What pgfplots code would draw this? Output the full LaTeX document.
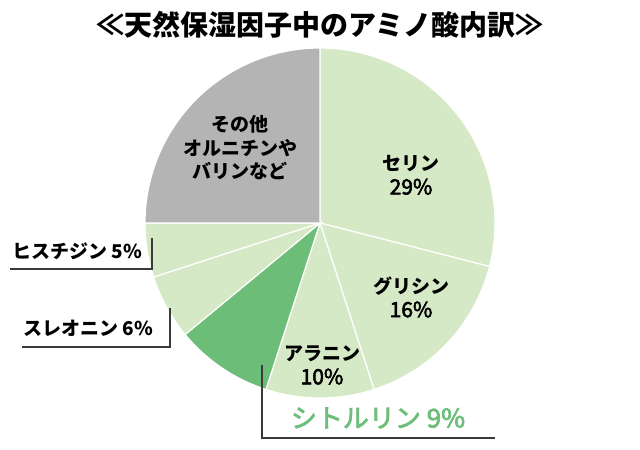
\documentclass[border=0pt]{standalone}
\usepackage{fontspec}
\setmainfont{Noto Sans CJK JP}
\usepackage{pgfplots}
\usepackage{pgfplotstable}
\pgfplotsset{compat=1.18}
\definecolor{lightg}{HTML}{D6E9C6}
\definecolor{darkg}{HTML}{6CBD78}
\definecolor{grayp}{HTML}{B4B4B4}
\definecolor{textg}{HTML}{6DBE7A}
\definecolor{linec}{HTML}{3A3A3A}

\pgfplotstableread{
pct col
29 lightg
16 lightg
10 lightg
9 darkg
6 lightg
5 lightg
25 grayp
}\pietable

\newcommand\pieslice[3]{%
  \fill[#3, draw=white, line width=1.2bp] (axis cs:320,227) -- ++({90-3.6*#1}:175bp)
    arc[start angle={90-3.6*#1}, end angle={90-3.6*#2}, radius=175bp] -- cycle;}

\gdef\slicecmds{}
\gdef\cumstart{0}
\pgfplotstableforeachcolumnelement{pct}\of\pietable\as\val{%
  \pgfplotstablegetelem{\pgfplotstablerow}{col}\of\pietable
  \let\col=\pgfplotsretval
  \pgfmathsetmacro\cumend{\cumstart+\val}%
  \xdef\slicecmds{\slicecmds\noexpand\pieslice{\cumstart}{\cumend}{\col}}%
  \global\let\cumstart=\cumend
}
\newcommand\semib[2]{\special{pdf:literal direct 2 Tr #1 w}#2\special{pdf:literal direct 0 Tr}}
\newcommand\num[1]{{\mdseries\fontsize{21bp}{24bp}\selectfont\semib{0.55}{#1}}}

\begin{document}
\begin{tikzpicture}
\begin{axis}[scale only axis, width=640bp, height=450bp,
  xmin=0, xmax=640, ymin=0, ymax=450, hide axis, clip=false]
\path (axis cs:0,0) rectangle (axis cs:640,450);
\slicecmds
% title
\node[font=\fontsize{28bp}{32bp}\selectfont\bfseries] at (axis cs:320,425) {≪天然保湿因子中のアミノ酸内訳≫};
% inner labels
\node[font=\fontsize{19bp}{24bp}\selectfont\bfseries, align=center] at (axis cs:411,275) {セリン\\\num{29\%}};
\node[font=\fontsize{19bp}{24bp}\selectfont\bfseries, align=center] at (axis cs:411,153) {グリシン\\\num{16\%}};
\node[font=\fontsize{19bp}{24bp}\selectfont\bfseries, align=center] at (axis cs:322,85) {アラニン\\\num{10\%}};
\node[font=\fontsize{19bp}{23.5bp}\selectfont\bfseries, align=center] at (axis cs:240,302) {その他\\オルニチンや\\バリンなど};
% outer labels
\node[font=\fontsize{26bp}{30bp}\selectfont, text=textg] at (axis cs:378,32) {\semib{0.7}{シトルリン 9\%}};
\node[font=\fontsize{19bp}{24bp}\selectfont\bfseries, anchor=west, inner sep=0pt] at (axis cs:12,199) {ヒスチジン 5\%};
\node[font=\fontsize{19bp}{24bp}\selectfont\bfseries, anchor=west, inner sep=0pt] at (axis cs:23,122) {スレオニン 6\%};
% leader lines
\draw[linec, line width=1.1bp] (axis cs:10,181) -- (axis cs:152,181) -- (axis cs:152,212);
\draw[linec, line width=1.1bp] (axis cs:22,103) -- (axis cs:170,103) -- (axis cs:170,142);
\draw[linec, line width=1.1bp] (axis cs:262,85) -- (axis cs:262,12) -- (axis cs:495,12);
\end{axis}
\end{tikzpicture}
\end{document}
